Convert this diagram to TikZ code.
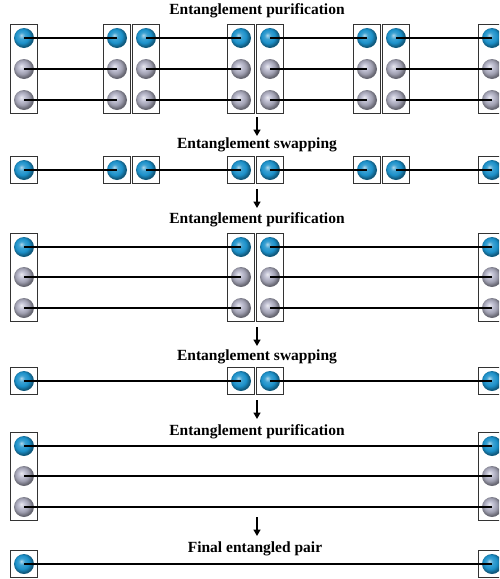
\documentclass[tikz,border=0pt]{standalone}
\usepackage{fontspec}
\setmainfont{Liberation Serif}
\usetikzlibrary{fit,arrows.meta}
\definecolor{qblue}{RGB}{28,145,202}
\definecolor{qgray}{RGB}{188,188,208}
\pgfdeclareradialshading{bluesh}{\pgfpoint{-7bp}{7bp}}{color(0bp)=(qblue!35!white); color(8bp)=(qblue!85!white); color(17bp)=(qblue); color(25bp)=(qblue!62!black); color(50bp)=(qblue!62!black)}
\pgfdeclareradialshading{graysh}{\pgfpoint{-7bp}{7bp}}{color(0bp)=(qgray!30!white); color(8bp)=(qgray!90!white); color(17bp)=(qgray!85!black); color(25bp)=(qgray!55!black); color(50bp)=(qgray!55!black)}
\begin{document}
\begin{tikzpicture}[x=1pt,y=-1pt,
 qubit/.style={circle,minimum size=20pt,inner sep=0pt},
 bq/.style={qubit,shading=bluesh},
 gq/.style={qubit,shading=graysh},
 qbox/.style={draw=black!80,line width=0.8pt,inner xsep=3pt,inner ysep=3.5pt},
 link/.style={line width=2pt},
 stepar/.style={line width=1.6pt,-{Triangle[length=6.5pt,width=7pt]}},
 ttl/.style={font=\bfseries\fontsize{15.5}{18}\selectfont,anchor=base}]
\useasboundingbox (0,0) rectangle (499,579);
\clip (0,0) rectangle (499,579);
% Row 1
\foreach \x [count=\i] in {24,117,146,241,270,367,396,492} {
  \node[bq] (r1c\i-q1) at (\x,38) {};
  \node[gq] (r1c\i-q2) at (\x,69) {};
  \node[gq] (r1c\i-q3) at (\x,100) {};
  \node[qbox,fit=(r1c\i-q1)(r1c\i-q3)] (r1c\i-box) {};
}
\foreach \a/\b in {1/2,3/4,5/6,7/8} \foreach \q in {1,2,3}
  \draw[link] (r1c\a-q\q.center) -- (r1c\b-q\q.center);
% Row 2
\foreach \x [count=\i] in {24,117,146,241,270,367,396,492} {
  \node[bq] (r2c\i-q1) at (\x,170) {};
  \node[qbox,fit=(r2c\i-q1)] (r2c\i-box) {};
}
\foreach \a/\b in {1/2,3/4,5/6,7/8}
  \draw[link] (r2c\a-q1.center) -- (r2c\b-q1.center);
% Row 3
\foreach \x [count=\i] in {24,241,270,492} {
  \node[bq] (r3c\i-q1) at (\x,247) {};
  \node[gq] (r3c\i-q2) at (\x,277) {};
  \node[gq] (r3c\i-q3) at (\x,308) {};
  \node[qbox,fit=(r3c\i-q1)(r3c\i-q3)] (r3c\i-box) {};
}
\foreach \a/\b in {1/2,3/4} \foreach \q in {1,2,3}
  \draw[link] (r3c\a-q\q.center) -- (r3c\b-q\q.center);
% Row 4
\foreach \x [count=\i] in {24,241,270,492} {
  \node[bq] (r4c\i-q1) at (\x,381) {};
  \node[qbox,fit=(r4c\i-q1)] (r4c\i-box) {};
}
\foreach \a/\b in {1/2,3/4}
  \draw[link] (r4c\a-q1.center) -- (r4c\b-q1.center);
% Row 5
\foreach \x [count=\i] in {24,492} {
  \node[bq] (r5c\i-q1) at (\x,446) {};
  \node[gq] (r5c\i-q2) at (\x,476) {};
  \node[gq] (r5c\i-q3) at (\x,507) {};
  \node[qbox,fit=(r5c\i-q1)(r5c\i-q3)] (r5c\i-box) {};
}
\foreach \q in {1,2,3}
  \draw[link] (r5c1-q\q.center) -- (r5c2-q\q.center);
% Row 6
\foreach \x [count=\i] in {24,492} {
  \node[bq] (r6c\i-q1) at (\x,564) {};
  \node[qbox,fit=(r6c\i-q1)] (r6c\i-box) {};
}
\draw[link] (r6c1-q1.center) -- (r6c2-q1.center);
% Titles
\node[ttl] (t1) at (257,14) {Entanglement purification};
\node[ttl] (t2) at (257,148.5) {Entanglement swapping};
\node[ttl] (t3) at (257,223) {Entanglement purification};
\node[ttl] (t4) at (257,360) {Entanglement swapping};
\node[ttl] (t5) at (257,435) {Entanglement purification};
\node[ttl] (t6) at (255,552) {Final entangled pair};
% Arrows
\coordinate (a1s) at (257,117); \coordinate (a1e) at (257,136);
\coordinate (a2s) at (257,189); \coordinate (a2e) at (257,208);
\coordinate (a3s) at (257,327); \coordinate (a3e) at (257,346);
\coordinate (a4s) at (257,400); \coordinate (a4e) at (257,419);
\coordinate (a5s) at (257,517); \coordinate (a5e) at (257,536);
\foreach \k in {1,...,5} \draw[stepar] (a\k s) -- (a\k e);
\end{tikzpicture}
\end{document}
